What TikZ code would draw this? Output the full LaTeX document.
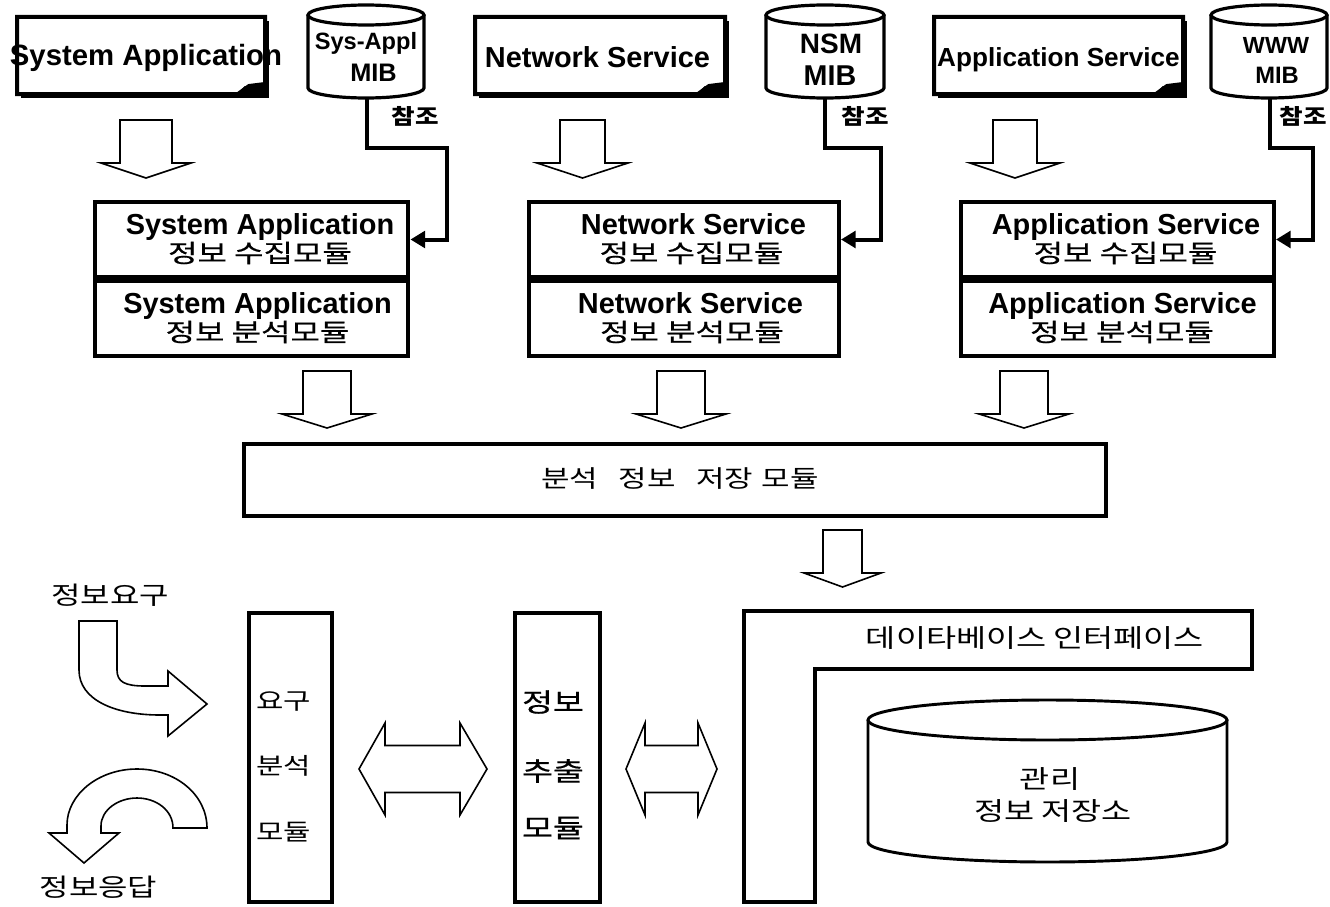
\documentclass[tikz,border=0pt]{standalone}
\usepackage{fontspec}
\usepackage{graphicx}
\setmainfont{Liberation Sans}
\newfontfamily\kr{Noto Sans CJK KR}
\newfontfamily\krm[FakeBold=0.5]{Noto Sans CJK KR}
\usetikzlibrary{arrows.meta}
\newcommand\hs[1]{\scalebox{1.29}[1]{#1}}
\newcommand\hsr[1]{\scalebox{1.2}[1]{#1}}
% document shape with shadow and folded corner: x1 y1 x2 y2
\newcommand\mkDoc[4]{%
  \fill ({#1+4},{#2+4}) rectangle ({#3+4},{#4+4});
  \draw[docline] (#1,#2) -- (#3,#2) -- (#3,{#4-10}) -- ({#3-16},{#4-8}) -- ({#3-27},#4) -- (#1,#4) -- cycle;
  \draw[line width=1.2pt] ({#3-27},#4) -- ({#3-20},{#4-7}) -- (#3,{#4-10});
}
% cylinder: cx, y of top ellipse centre, y of bottom ellipse centre, rx, ry, style
\newcommand\mkCyl[6]{%
  \pgfmathsetmacro\cyA{#1-#4}\pgfmathsetmacro\cyB{#1+#4}%
  \pgfmathsetmacro\cyKx{0.5523*#4}\pgfmathsetmacro\cyKy{0.5523*#5}%
  \draw[#6] (\cyA,#2) -- (\cyA,#3) .. controls (\cyA,{#3+\cyKy}) and ({#1-\cyKx},{#3+#5}) .. (#1,{#3+#5})
     .. controls ({#1+\cyKx},{#3+#5}) and (\cyB,{#3+\cyKy}) .. (\cyB,#3) -- (\cyB,#2);
  \draw[#6] (\cyA,#2) .. controls (\cyA,{#2-\cyKy}) and ({#1-\cyKx},{#2-#5}) .. (#1,{#2-#5})
     .. controls ({#1+\cyKx},{#2-#5}) and (\cyB,{#2-\cyKy}) .. (\cyB,#2)
     .. controls (\cyB,{#2+\cyKy}) and ({#1+\cyKx},{#2+#5}) .. (#1,{#2+#5})
     .. controls ({#1-\cyKx},{#2+#5}) and (\cyA,{#2+\cyKy}) .. (\cyA,#2) -- cycle;
}
% hollow down arrow: cx, ytop, y shaft bottom, y tip, shaft half width, head half width
\newcommand\mkDown[6]{%
  \draw[blk] ({#1-#5},#2) -- ({#1+#5},#2) -- ({#1+#5},#3) -- ({#1+#6},#3) -- (#1,#4)
     -- ({#1-#6},#3) -- ({#1-#5},#3) -- cycle;}
% hollow double arrow: x left tip, x left base, x right base, x right tip, cy, shaft half, head half
\newcommand\mkDbl[7]{%
  \draw[blk] (#1,#5) -- (#2,{#5-#7}) -- (#2,{#5-#6}) -- (#3,{#5-#6}) -- (#3,{#5-#7}) -- (#4,#5)
     -- (#3,{#5+#7}) -- (#3,{#5+#6}) -- (#2,{#5+#6}) -- (#2,{#5+#7}) -- cycle;}
\begin{document}
\begin{tikzpicture}[x=0.75pt,y=-0.75pt,
  docline/.style={line width=3pt, fill=white, line join=miter},
  cylthick/.style={line width=2.4pt},
  cylmid/.style={line width=2.2pt},
  blk/.style={draw, line width=1.2pt, fill=white, line join=miter},
  box/.style={draw, line width=3pt, inner sep=0pt, fill=white},
  refline/.style={line width=3pt, -{Triangle[length=11pt,width=12.5pt]}},
  enb/.style={inner sep=0pt, font=\fontsize{21.7}{24}\selectfont\bfseries},
  krm/.style={inner sep=0pt, font=\krm\fontsize{18.6}{22}\selectfont},
  krt/.style={inner sep=0pt, font=\kr\fontsize{18.6}{22}\selectfont},
  krs/.style={inner sep=0pt, font=\kr\fontsize{16}{18}\selectfont\bfseries},
  krb/.style={inner sep=0pt, font=\kr\fontsize{17.3}{20}\selectfont},
  krc/.style={inner sep=0pt, font=\kr\fontsize{19}{22}\selectfont},
]
\useasboundingbox (0,0) rectangle (1330,906);
\fill[white] (0,0) rectangle (1330,906);

% ---------- top documents ----------
\mkDoc{17}{17}{265}{94}
\mkDoc{475}{17}{725}{94}
\mkDoc{934}{17}{1183}{94}
\node[inner sep=0pt, anchor=base, font=\fontsize{22}{24}\selectfont\bfseries] (docA) at (146,65) {System Application};
\node[inner sep=0pt, anchor=base, font=\fontsize{21.7}{24}\selectfont\bfseries] (docB) at (597.5,67.5) {Network Service};
\node[inner sep=0pt, anchor=base, font=\fontsize{19.6}{22}\selectfont\bfseries] (docC) at (1058.5,66) {Application Service};

% ---------- MIB cylinders ----------
\mkCyl{366}{15}{88}{58}{10}{cylthick}
\mkCyl{825}{15}{88}{59}{10}{cylthick}
\mkCyl{1269}{15}{88}{58}{10}{cylthick}
\node[inner sep=0pt, anchor=base, font=\fontsize{17.7}{20}\selectfont\bfseries] (mibA1) at (366,50) {Sys-Appl};
\node[inner sep=0pt, anchor=base, font=\fontsize{19}{20}\selectfont\bfseries] (mibA2) at (373.5,82) {MIB};
\node[inner sep=0pt, anchor=base, font=\fontsize{21}{22}\selectfont\bfseries] (mibB1) at (831,53.5) {NSM};
\node[inner sep=0pt, anchor=base, font=\fontsize{21.5}{22}\selectfont\bfseries] (mibB2) at (830,85.5) {MIB};
\node[inner sep=0pt, anchor=base, font=\fontsize{17.5}{20}\selectfont\bfseries] (mibC1) at (1276,54) {WWW};
\node[inner sep=0pt, anchor=base, font=\fontsize{17.8}{20}\selectfont\bfseries] (mibC2) at (1277,84) {MIB};
\coordinate (mibAb) at (367,98);
\coordinate (mibBb) at (825,98);
\coordinate (mibCb) at (1270,98);
\node[krs] (refA) at (415,116) {\hsr{참조}};
\node[krs] (refB) at (865,116) {\hsr{참조}};
\node[krs] (refC) at (1303,116) {\hsr{참조}};

% ---------- arrows doc -> module ----------
\mkDown{146}{120}{163}{178}{26}{45}
\mkDown{582.5}{120}{163}{178}{22.5}{45.5}
\mkDown{1015}{120}{163}{178}{22}{45}

% ---------- module boxes ----------
\node[box, minimum width=235.1pt, minimum height=56.25pt] (saU) at (251.75,239.5) {};
\node[box, minimum width=235.1pt, minimum height=56.25pt] (saL) at (251.75,318.5) {};
\node[box, minimum width=232.5pt, minimum height=56.25pt] (nsU) at (684,239.5) {};
\node[box, minimum width=232.5pt, minimum height=56.25pt] (nsL) at (684,318.5) {};
\node[box, minimum width=234.75pt, minimum height=56.25pt] (asU) at (1117.5,239.5) {};
\node[box, minimum width=234.75pt, minimum height=56.25pt] (asL) at (1117.5,318.5) {};

\node[enb, anchor=base] (saUa) at (260,234) {System Application};
\node[krm] (saUb) at (260,253) {\hs{정보 수집모듈}};
\node[enb, anchor=base] (saLa) at (257.5,313) {System Application};
\node[krm] (saLb) at (257.5,332) {\hs{정보 분석모듈}};
\node[enb, anchor=base] (nsUa) at (693.5,234) {Network Service};
\node[krm] (nsUb) at (691.5,253) {\hs{정보 수집모듈}};
\node[enb, anchor=base] (nsLa) at (690.5,313) {Network Service};
\node[krm] (nsLb) at (692,332) {\hs{정보 분석모듈}};
\node[enb, anchor=base] (asUa) at (1126,234) {Application Service};
\node[krm] (asUb) at (1125.5,253) {\hs{정보 수집모듈}};
\node[enb, anchor=base] (asLa) at (1122.5,313) {Application Service};
\node[krm] (asLb) at (1122,332) {\hs{정보 분석모듈}};

% ---------- reference connectors ----------
\draw[refline] (mibAb) -- ++(0,50) -- ++(80,0) |- (saU.east);
\draw[refline] (mibBb) -- ++(0,50) -- ++(56,0) |- (nsU.east);
\draw[refline] (mibCb) -- ++(0,50) -- ++(43,0) |- (asU.east);

% ---------- arrows module -> storage ----------
\mkDown{327}{371}{414}{428}{24}{45}
\mkDown{681}{371}{414}{428}{24}{45}
\mkDown{1024}{371}{414}{428}{24}{45}

% ---------- storage module ----------
\node[box, minimum width=646.5pt, minimum height=54pt] (store) at (675,480) {};
\node[inner sep=0pt, font=\kr\fontsize{18}{20}\selectfont] (storet) at (680,479) {\hs{분석\hspace{12pt}정보\hspace{12pt}저장\hspace{5pt}모듈}};

\mkDown{842.5}{530}{573}{587}{19.5}{38.5}

% ---------- bottom left arrows ----------
\node[krt] (req) at (110,595) {\hs{정보요구}};
\draw[blk] (79,621) -- (117,621) -- (117,670) .. controls (117,682) and (125,686) .. (145,686)
  -- (168,686) -- (168,671) -- (207,704) -- (168,736) -- (168,715) -- (160,715)
  .. controls (115,715) and (79,700) .. (79,670) -- cycle;
\draw[blk] (173,828) -- (207,828) .. controls (207,795) and (176,769) .. (137,769)
  .. controls (98,769) and (67,795) .. (67,825) -- (67,833) -- (49,833) -- (84,863) -- (119,833)
  -- (101,833) -- (101,826) .. controls (101,810) and (118,798) .. (137,798)
  .. controls (156,798) and (173,810) .. (173,828) -- cycle;
\node[krt] (resp) at (98.5,887.5) {\hs{정보응답}};

% ---------- bottom boxes ----------
\node[box, minimum width=61.9pt, minimum height=217.1pt] (reqm) at (290.75,757.25) {};
\node[krb] (reqm1) at (283.5,702) {\hs{요구}};
\node[krb] (reqm2) at (283.5,766) {\hs{분석}};
\node[krb] (reqm3) at (283.5,832) {\hs{모듈}};

\node[box, minimum width=63.4pt, minimum height=217.1pt] (extm) at (557.25,757.25) {};
\node[inner sep=0pt, font=\krm\fontsize{19.5}{22}\selectfont] (extm1) at (553,702) {\hs{정보}};
\node[inner sep=0pt, font=\krm\fontsize{19.5}{22}\selectfont] (extm2) at (553,771) {\hs{추출}};
\node[inner sep=0pt, font=\krm\fontsize{19.5}{22}\selectfont] (extm3) at (553,828) {\hs{모듈}};

\mkDbl{359}{385}{460}{487}{769}{23.5}{46}
\mkDbl{626}{645}{698}{717}{769}{23.5}{46}

% ---------- database interface ----------
\draw[line width=3pt, line join=miter] (744,611) -- (1252,611) -- (1252,669) -- (815,669) -- (815,902) -- (744,902) -- cycle;
\node[krc] (dbif) at (1035,638) {\hs{데이타베이스 인터페이스}};

\mkCyl{1047.5}{720}{842}{179.5}{20}{cylmid}
\node[krc] (repo1) at (1050,779) {\hs{관리}};
\node[krc] (repo2) at (1053,811) {\hs{정보 저장소}};
\end{tikzpicture}
\end{document}
